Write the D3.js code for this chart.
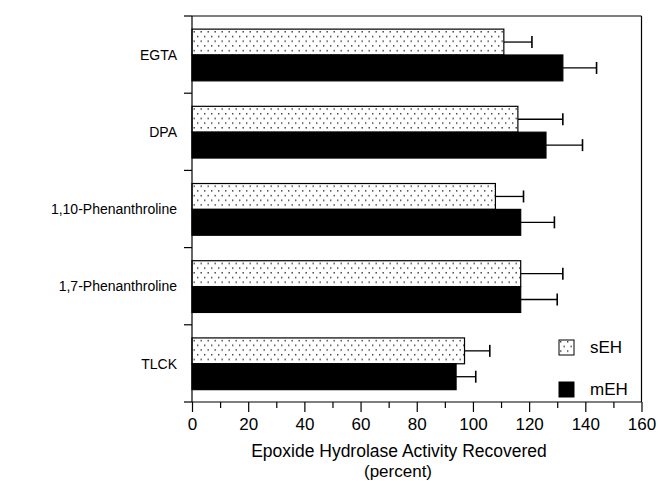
<!DOCTYPE html>
<html>
<head>
<meta charset="utf-8">
<script src="https://cdn.jsdelivr.net/npm/d3@7"></script>
<style>
  html, body { margin: 0; padding: 0; background: #fff; }
  svg text { font-family: "Liberation Sans", Arial, Helvetica, sans-serif; fill: #000; }
</style>
</head>
<body>
<svg id="chart" width="658" height="481"></svg>
<script>
// ---- data ----
const categories = ["EGTA", "DPA", "1,10-Phenanthroline", "1,7-Phenanthroline", "TLCK"];
const seriesNames = ["sEH", "mEH"];
const sEHValues = [111, 116, 108, 117, 97];
const sEHErrors = [10, 16, 10, 15, 9];
const mEHValues = [132, 126, 117, 117, 94];
const mEHErrors = [12, 13, 12, 13, 7];
const xTickLabels = [0, 20, 40, 60, 80, 100, 120, 140, 160];
const xTitle = "Epoxide Hydrolase Activity Recovered";
const xSubtitle = "(percent)";

const svg = d3.select("#chart");
const plotL = 192, plotR = 641.5, plotT = 16, plotB = 402;

// pattern for sEH
const defs = svg.append("defs");
const pat = defs.append("pattern").attr("id", "dots")
  .attr("patternUnits", "userSpaceOnUse").attr("width", 7).attr("height", 9.4);
pat.append("rect").attr("width", 7).attr("height", 9.4).attr("fill", "#fff");
pat.append("rect").attr("x", 1).attr("y", 1).attr("width", 1.4).attr("height", 1.4).attr("fill", "#333");
pat.append("rect").attr("x", 4.5).attr("y", 5.7).attr("width", 1.4).attr("height", 1.4).attr("fill", "#333");

const x = d3.scaleLinear().domain([0, 160]).range([plotL, plotR]);
const y = d3.scaleBand().domain(categories).range([plotT, plotB]).padding(0);
const inner = d3.scaleBand().domain(seriesNames)
  .range([y.bandwidth() * 0.17, y.bandwidth() * 0.84]).padding(0);

const data = categories.map((c, i) => ({
  cat: c,
  items: [
    { s: "sEH", v: sEHValues[i], e: sEHErrors[i] },
    { s: "mEH", v: mEHValues[i], e: mEHErrors[i] }
  ]
}));

const g = svg.append("g");
const groups = g.selectAll("g.grp").data(data).enter().append("g")
  .attr("transform", d => `translate(0,${y(d.cat)})`);

// error bars
groups.selectAll("g.err").data(d => d.items).enter().append("g").each(function(d) {
  const sel = d3.select(this);
  const cy = inner(d.s) + inner.bandwidth() / 2;
  sel.append("line").attr("x1", x(d.v)).attr("x2", x(d.v + d.e))
    .attr("y1", cy).attr("y2", cy).attr("stroke", "#000").attr("stroke-width", 1.3);
  sel.append("line").attr("x1", x(d.v + d.e)).attr("x2", x(d.v + d.e))
    .attr("y1", cy - 6).attr("y2", cy + 6).attr("stroke", "#000").attr("stroke-width", 1.6);
});

// bars
groups.selectAll("rect.bar").data(d => d.items).enter().append("rect")
  .attr("x", x(0))
  .attr("y", d => inner(d.s))
  .attr("width", d => x(d.v) - x(0))
  .attr("height", inner.bandwidth())
  .attr("fill", d => d.s === "sEH" ? "url(#dots)" : "#000")
  .attr("stroke", "#000").attr("stroke-width", 1.2);

// frame (top and right)
svg.append("line").attr("x1", plotL).attr("x2", plotR).attr("y1", plotT).attr("y2", plotT)
  .attr("stroke", "#000").attr("stroke-width", 1.2);
svg.append("line").attr("x1", plotR).attr("x2", plotR).attr("y1", plotT).attr("y2", plotB)
  .attr("stroke", "#000").attr("stroke-width", 1.2);

// x axis
const xAxis = d3.axisBottom(x).tickValues(xTickLabels).tickSize(10).tickPadding(6)
  .tickFormat(d3.format("d"));
const xa = svg.append("g").attr("transform", `translate(0,${plotB})`).call(xAxis);
xa.select(".domain").attr("stroke-width", 1.2).attr("d", `M${plotL},0H${plotR}`);
xa.selectAll(".tick line").attr("stroke-width", 1.2);
xa.selectAll(".tick text").attr("font-size", 17).attr("font-family", null);
const xMinor = d3.axisBottom(x).tickValues(d3.range(10, 160, 20)).tickSize(6).tickFormat("");
const xm = svg.append("g").attr("transform", `translate(0,${plotB})`).call(xMinor);
xm.select(".domain").remove();
xm.selectAll(".tick line").attr("stroke-width", 1.2);

// y axis: ticks at band boundaries
const yBounds = categories.map(c => y(c)).concat([plotB]);
svg.append("line").attr("x1", plotL).attr("x2", plotL).attr("y1", plotT).attr("y2", plotB)
  .attr("stroke", "#000").attr("stroke-width", 1.2);
svg.selectAll("line.ytick").data(yBounds).enter().append("line")
  .attr("x1", plotL - 8).attr("x2", plotL).attr("y1", d => d).attr("y2", d => d)
  .attr("stroke", "#000").attr("stroke-width", 1.2);

// category labels
svg.selectAll("text.cat").data(categories).enter().append("text")
  .attr("x", 177).attr("y", d => y(d) + inner(seriesNames[0]) + inner.bandwidth())
  .attr("dy", "0.35em").attr("text-anchor", "end").attr("font-size", 14)
  .text(d => d);

// axis title
svg.append("text").attr("x", 399).attr("y", 457)
  .attr("text-anchor", "middle").attr("font-size", 17.5).text(xTitle);
svg.append("text").attr("x", 398).attr("y", 477)
  .attr("text-anchor", "middle").attr("font-size", 17).text(xSubtitle);

// legend
const legY = [340, 382];
const leg = svg.selectAll("g.leg").data(seriesNames).enter().append("g")
  .attr("transform", (d, i) => `translate(559,${legY[i]})`);
leg.append("rect").attr("width", 15).attr("height", 15)
  .attr("fill", d => d === "sEH" ? "url(#dots)" : "#000")
  .attr("stroke", "#000").attr("stroke-width", 1);
leg.append("text").attr("x", 31).attr("y", 7.5).attr("dy", "0.35em")
  .attr("font-size", 17).text(d => d);
</script>
</body>
</html>
